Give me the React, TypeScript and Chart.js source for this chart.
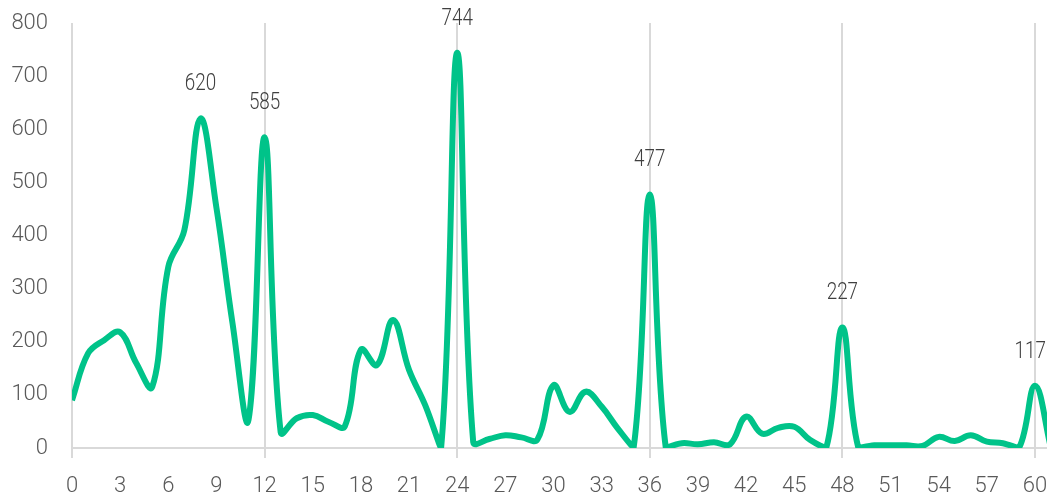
import React, { useEffect, useRef } from "react";
import { Chart, registerables } from "chart.js";

Chart.register(...registerables);

const xValues: number[] = [
  0, 1, 2, 3, 4, 5, 6, 7, 8, 9, 10, 11, 12, 13, 14, 15, 16, 17, 18, 19, 20,
  21, 22, 23, 24, 25, 26, 27, 28, 29, 30, 31, 32, 33, 34, 35, 36, 37, 38, 39,
  40, 41, 42, 43, 44, 45, 46, 47, 48, 49, 50, 51, 52, 53, 54, 55, 56, 57, 58,
  59, 60, 61,
];
const yValues: number[] = [
  90, 178, 203, 218, 160, 115, 341, 410, 620, 452, 235, 53, 585, 30, 56, 62,
  49, 41, 185, 156, 241, 147, 81, 1, 744, 11, 17, 24, 20, 16, 118, 68, 106,
  78, 37, 2, 477, 0, 9, 7, 11, 7, 59, 27, 38, 40, 15, 1, 227, 0, 5, 5, 5, 4,
  21, 13, 24, 12, 9, 0, 117, 0,
];
const labeledX: number[] = [8, 12, 24, 36, 48, 60];
const xTickStep = 3;
const xGridStep = 12;

const FONT = "Roboto, 'DejaVu Sans', sans-serif";

export default function App() {
  const ref = useRef<HTMLCanvasElement | null>(null);

  useEffect(() => {
    document.body.style.margin = "0";
    const canvas = ref.current;
    if (!canvas) return;

    const labelPlugin = {
      id: "peakLabels",
      afterDatasetsDraw(chart: any) {
        const { ctx } = chart;
        const xs = chart.scales.x;
        const ys = chart.scales.y;
        const sx = 0.82;
        ctx.save();
        ctx.font = `300 23px ${FONT}`;
        ctx.fillStyle = "#404040";
        ctx.textAlign = "center";
        ctx.textBaseline = "middle";
        labeledX.forEach((xv) => {
          const idx = xValues.indexOf(xv);
          const v = yValues[idx];
          const text = String(v);
          const w = ctx.measureText(text).width * sx;
          let px = xs.getPixelForValue(xv);
          if (px + w / 2 > chart.width - 1) px = chart.width - 1 - w / 2;
          const py = ys.getPixelForValue(v);
          ctx.save();
          ctx.translate(px, py - 34);
          ctx.scale(sx, 1);
          ctx.fillText(text, 0, 0);
          ctx.restore();
        });
        ctx.restore();
      },
    };

    const chart = new Chart(canvas, {
      type: "line",
      data: {
        datasets: [
          {
            data: xValues.map((x, i) => ({ x, y: yValues[i] })),
            borderColor: "#00C389",
            borderWidth: 6,
            pointRadius: 0,
            tension: 0.4,
            fill: false,
          },
        ],
      },
      options: {
        animation: false,
        responsive: false,
        maintainAspectRatio: false,
        layout: { padding: { top: 23, left: 0, right: 0, bottom: 0 } },
        plugins: {
          legend: { display: false },
          tooltip: { enabled: false },
        },
        scales: {
          x: {
            type: "linear",
            min: 0,
            max: 60.75,
            afterBuildTicks: (scale: any) => {
              const t: any[] = [];
              for (let v = 0; v <= 60; v += xTickStep) t.push({ value: v });
              scale.ticks = t;
            },
            afterFit: (scale: any) => {
              scale.height = 51;
              scale.paddingLeft = 0;
              scale.paddingRight = 0;
            },
            ticks: {
              stepSize: xTickStep,
              autoSkip: false,
              maxRotation: 0,
              padding: 15,
              color: "#595959",
              font: { family: FONT, size: 22, weight: "300" },
            },
            grid: {
              color: (c: any) =>
                c.tick && c.tick.value % xGridStep === 0 ? "#d9d9d9" : "rgba(0,0,0,0)",
              lineWidth: 2,
              tickLength: 10,
              drawTicks: true,
            },
            border: { display: true, color: "#d9d9d9", width: 2 },
          },
          y: {
            min: 0,
            max: 800,
            afterFit: (scale: any) => {
              scale.width = 72;
              scale.paddingTop = 0;
              scale.paddingBottom = 0;
            },
            ticks: {
              stepSize: 100,
              padding: 24,
              color: "#595959",
              font: { family: FONT, size: 22, weight: "300" },
            },
            grid: { display: false, drawTicks: false },
            border: { display: false },
          },
        },
      },
      plugins: [labelPlugin],
    });

    return () => chart.destroy();
  }, []);

  return (
    <div style={{ position: "absolute", left: 0, top: 0, width: 1047, height: 499 }}>
      <canvas ref={ref} width={1047} height={499} style={{ width: 1047, height: 499 }} />
    </div>
  );
}
